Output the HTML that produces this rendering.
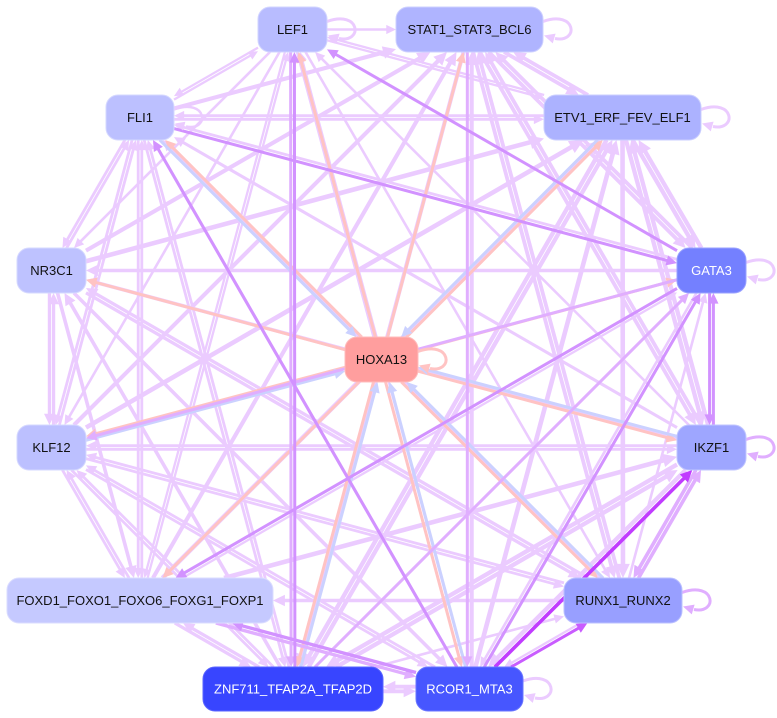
<!DOCTYPE html>
<html><head><meta charset="utf-8">
<style>
html,body{margin:0;padding:0;background:#fff;overflow:hidden;}
svg{display:block}
text{font-family:"Liberation Sans",Arial,sans-serif;font-size:13px;}
</style></head>
<body>
<svg id="svg" width="777" height="718" viewBox="0 0 777 718" xmlns="http://www.w3.org/2000/svg">
<rect x="0" y="0" width="777" height="718" fill="#ffffff"/>
<g id="edges"></g>
<g id="nodes">
<rect x="258" y="7" width="69" height="45" rx="12" fill="#b8bcff" stroke="#d2d5ff" stroke-width="1"/>
<text x="292.5" y="34" text-anchor="middle" fill="#111">LEF1</text>
<rect x="396" y="7" width="147" height="45" rx="12" fill="#afb4ff" stroke="#cdd0ff" stroke-width="1"/>
<text x="469.5" y="34" text-anchor="middle" fill="#111">STAT1_STAT3_BCL6</text>
<rect x="106" y="95" width="68" height="45" rx="12" fill="#bcc0ff" stroke="#d5d8ff" stroke-width="1"/>
<text x="140" y="122" text-anchor="middle" fill="#111">FLI1</text>
<rect x="544" y="95" width="157" height="45" rx="12" fill="#acb2ff" stroke="#cbcfff" stroke-width="1"/>
<text x="622.5" y="122" text-anchor="middle" fill="#111">ETV1_ERF_FEV_ELF1</text>
<rect x="17" y="248" width="69" height="45" rx="12" fill="#bec2ff" stroke="#d6d9ff" stroke-width="1"/>
<text x="51.5" y="275" text-anchor="middle" fill="#111">NR3C1</text>
<rect x="677" y="248" width="69" height="45" rx="12" fill="#7480ff" stroke="#9aa2ff" stroke-width="1"/>
<text x="711.5" y="275" text-anchor="middle" fill="#ffffff">GATA3</text>
<rect x="345" y="337" width="73" height="45" rx="12" fill="#ff9e9e" stroke="#ffbcbc" stroke-width="1"/>
<text x="381.5" y="364" text-anchor="middle" fill="#111">HOXA13</text>
<rect x="17" y="425" width="69" height="45" rx="12" fill="#bcc0ff" stroke="#d5d8ff" stroke-width="1"/>
<text x="51.5" y="452" text-anchor="middle" fill="#111">KLF12</text>
<rect x="677" y="425" width="69" height="45" rx="12" fill="#9ea6ff" stroke="#c0c5ff" stroke-width="1"/>
<text x="711.5" y="452" text-anchor="middle" fill="#111">IKZF1</text>
<rect x="7" y="578" width="266" height="45" rx="12" fill="#c5c9ff" stroke="#dadcff" stroke-width="1"/>
<text x="140" y="605" text-anchor="middle" fill="#111">FOXD1_FOXO1_FOXO6_FOXG1_FOXP1</text>
<rect x="564" y="578" width="118" height="45" rx="12" fill="#989fff" stroke="#bbc0ff" stroke-width="1"/>
<text x="623" y="605" text-anchor="middle" fill="#111">RUNX1_RUNX2</text>
<rect x="203" y="667" width="180" height="44" rx="12" fill="#3845ff" stroke="#5a65ff" stroke-width="1"/>
<text x="293" y="693.5" text-anchor="middle" fill="#ffffff">ZNF711_TFAP2A_TFAP2D</text>
<rect x="416" y="667" width="107" height="44" rx="12" fill="#4756ff" stroke="#6a76ff" stroke-width="1"/>
<text x="469.5" y="693.5" text-anchor="middle" fill="#ffffff">RCOR1_MTA3</text>
</g>
</svg>
<script>
(function(){
var NS='http://www.w3.org/2000/svg';
var G=document.getElementById('edges');
var R=[[258,7,69,45],[396,7,147,45],[106,95,68,45],[544,95,157,45],[17,248,69,45],[677,248,69,45],[345,337,73,45],[17,425,69,45],[677,425,69,45],[7,578,266,45],[564,578,118,45],[203,667,180,44],[416,667,107,44]];
var Lc='#ebcbff',Mc='#e0aeff',Dc='#d292ff',Sc='#c13cff',Pc='#ffc3c3',Bc='#cbd1ff';
function C(i){var r=R[i];return [r[0]+r[2]/2,r[1]+r[3]/2];}
function slab(p,d,r){var t0=-1e9,t1=1e9;for(var k=0;k<2;k++){var lo=r[k],hi=r[k]+r[k+2];if(Math.abs(d[k])<1e-9){if(p[k]<lo||p[k]>hi)return null;continue;}var a=(lo-p[k])/d[k],b=(hi-p[k])/d[k];if(a>b){var t=a;a=b;b=t;}if(a>t0)t0=a;if(b<t1)t1=b;}return t0<=t1?[t0,t1]:null;}
function el(tag,attrs){var e=document.createElementNS(NS,tag);for(var k in attrs)e.setAttribute(k,attrs[k]);G.appendChild(e);return e;}
function arrow(tip,dir,w,col){var L=4+2.2*w,hw=1.8+1.1*w;var n=[-dir[1],dir[0]];var b=[tip[0]-dir[0]*L,tip[1]-dir[1]*L];
 el('polygon',{points:tip[0]+','+tip[1]+' '+(b[0]+n[0]*hw)+','+(b[1]+n[1]*hw)+' '+(b[0]-n[0]*hw)+','+(b[1]-n[1]*hw),fill:col});}
function edge(a,b,col,w,off){var pa=C(a),pb=C(b);var dx=pb[0]-pa[0],dy=pb[1]-pa[1],len=Math.hypot(dx,dy);var d=[dx/len,dy/len],n=[-d[1],d[0]];
 var p=[pa[0]+n[0]*off,pa[1]+n[1]*off];var sa=slab(p,d,R[a]),sb=slab(p,d,R[b]);var ts=sa?sa[1]:0,te=sb?sb[0]:len;
 var s=[p[0]+d[0]*ts,p[1]+d[1]*ts],t=[p[0]+d[0]*te,p[1]+d[1]*te];var L=4+2.2*w;var be=[t[0]-d[0]*(L-1),t[1]-d[1]*(L-1)];
 el('line',{x1:s[0],y1:s[1],x2:be[0],y2:be[1],stroke:col,'stroke-width':w});arrow(t,d,w,col);}
function loop(i,col,w){var r=R[i];var x=r[0]+r[2],y=r[1]+r[3]/2;
 el('path',{d:'M'+x+','+(y-8)+' C'+(x+34)+','+(y-20)+' '+(x+36)+','+(y+14)+' '+(x+12)+','+(y+9),fill:'none',stroke:col,'stroke-width':w});
 arrow([x+1,y+6],[-0.96,-0.28],w,col);}
var O=[0,1,3,5,8,10,12,11,9,7,4,2];
var adj={};for(var k=0;k<12;k++){var a=O[k],b=O[(k+1)%12];adj[Math.min(a,b)+'-'+Math.max(a,b)]=1;}
var E={};var order=[];
function add(s,t,w,col){var k=s+'>'+t;if(!E[k])order.push(k);E[k]={s:s,t:t,w:w,col:col};}
var outer=[0,1,2,3,4,5,7,8,9,10,11,12];
for(var x=0;x<12;x++)for(var y=x+1;y<12;y++){var a=outer[x],b=outer[y];var key=a+'-'+b;var h=(a*7+b*13+a*b)%10;
 var w=2.6+((a*3+b*5)%5)*0.5;
 if(key==='0-1'){add(0,1,w,Lc);}
 else if(adj[key]||h>=6){add(a,b,w-0.3,Lc);add(b,a,w-0.3,Lc);}
 else if(h<3){add(a,b,w,Lc);}
 else {add(b,a,w,Lc);}}
var ov={'5>0':Dc,'11>0':Dc,'2>5':Dc,'12>2':Dc,'5>9':Dc,'12>9':Dc,'9>12':Mc,'12>8':Sc,'12>10':'#c95cff','5>8':Dc,'8>5':Dc,'8>10':Mc,'10>8':Mc,'1>12':Mc,'12>5':Dc,'11>5':Mc,'5>7':Mc,'0>11':Mc};
for(var k2 in ov){var st=k2.split('>').map(Number);if(E[k2]){E[k2].col=ov[k2];E[k2].w=Math.max(3,Math.min(E[k2].w,3.6));}else add(st[0],st[1],3,ov[k2]);}
for(var i=0;i<outer.length;i++)add(6,outer[i],3,Pc);
[2,3,7,8,10,11,12].forEach(function(i){add(i,6,3,Bc);});
var rank={};rank[Lc]=0;rank[Pc]=1;rank[Bc]=1;rank[Mc]=2;rank[Dc]=3;rank['#c95cff']=4;rank[Sc]=5;
order.sort(function(p,q){return rank[E[p].col]-rank[E[q].col];});
order.forEach(function(k){var e=E[k];var rk=e.t+'>'+e.s;var off=0;if(E[rk]){off=(e.w+E[rk].w)/4+0.4;}edge(e.s,e.t,e.col,e.w,off);});
loop(0,Lc,3);loop(1,Lc,3);loop(2,Lc,2.5);loop(3,Lc,3);loop(5,Lc,3);loop(6,Pc,3);loop(8,Mc,3);loop(10,Mc,3);loop(12,Lc,3);
})();
</script>
</body></html>
